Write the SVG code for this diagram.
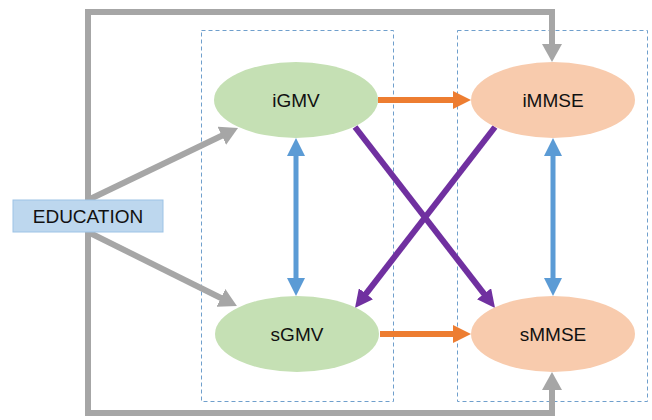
<svg xmlns="http://www.w3.org/2000/svg" width="652" height="420" viewBox="0 0 652 420">
  <style>
    .group-box { fill: none; stroke: #6f9fcc; stroke-width: 1; stroke-dasharray: 4 3; }
    .conn { fill: none; stroke-linejoin: miter; }
    .gray { stroke: #a6a6a6; stroke-width: 6; }
    .orange { stroke: #ed7d31; stroke-width: 6; }
    .blue { stroke: #5b9bd5; stroke-width: 5; }
    .purple { stroke: #7030a0; stroke-width: 6; }
    .label { font-family: "Liberation Sans", Arial, sans-serif; font-size: 19px; fill: #111; text-anchor: middle; }
    .gmv { fill: #c5e0b4; }
    .mmse { fill: #f8cbad; }
  </style>
  <defs>
    <marker id="head-gray" viewBox="0 0 18 20" markerUnits="userSpaceOnUse" markerWidth="18" markerHeight="20" refX="8" refY="10" orient="auto">
      <path d="M0,0 L18,10 L0,20 z" fill="#a6a6a6"/>
    </marker>
    <marker id="head-orange" viewBox="0 0 18 18" markerUnits="userSpaceOnUse" markerWidth="18" markerHeight="18" refX="8" refY="9" orient="auto">
      <path d="M0,0 L18,9 L0,18 z" fill="#ed7d31"/>
    </marker>
    <marker id="head-blue" viewBox="0 0 18 18" markerUnits="userSpaceOnUse" markerWidth="18" markerHeight="18" refX="8" refY="9" orient="auto-start-reverse">
      <path d="M0,0 L18,9 L0,18 z" fill="#5b9bd5"/>
    </marker>
    <marker id="head-purple" viewBox="0 0 18 18" markerUnits="userSpaceOnUse" markerWidth="18" markerHeight="18" refX="8" refY="9" orient="auto">
      <path d="M0,0 L18,9 L0,18 z" fill="#7030a0"/>
    </marker>
  </defs>

  <!-- dashed grouping frames -->
  <rect class="group-box" x="201.5" y="30.5" width="192" height="371"/>
  <rect class="group-box" x="457.5" y="30.5" width="190" height="371"/>

  <g id="connectors">
    <!-- education to intercept / slope of MMSE -->
    <path class="conn gray" d="M88,216 V12 H552 V52" marker-end="url(#head-gray)"/>
    <path class="conn gray" d="M88,216 V413 H552 V382" marker-end="url(#head-gray)"/>
    <!-- education to GMV -->
    <path class="conn gray" d="M88,200 L229,132.3" marker-end="url(#head-gray)"/>
    <path class="conn gray" d="M88,232 L228,301.5" marker-end="url(#head-gray)"/>
    <!-- GMV to MMSE -->
    <path class="conn orange" d="M378,100 H461" marker-end="url(#head-orange)"/>
    <path class="conn orange" d="M380,334 H461" marker-end="url(#head-orange)"/>
    <!-- intercept/slope covariances -->
    <path class="conn blue" d="M296,148 V286" marker-start="url(#head-blue)" marker-end="url(#head-blue)"/>
    <path class="conn blue" d="M553,148 V286" marker-start="url(#head-blue)" marker-end="url(#head-blue)"/>
    <!-- cross paths -->
    <path class="conn purple" d="M355,127 L488.9,300.1" marker-end="url(#head-purple)"/>
    <path class="conn purple" d="M495,127 L361.1,300.1" marker-end="url(#head-purple)"/>
  </g>

  <g id="education">
    <rect x="13" y="200" width="150" height="32" fill="#bdd7ee" stroke="#9dc3e6" stroke-width="1"/>
    <text class="label" x="88" y="223">EDUCATION</text>
  </g>

  <g id="iGMV">
    <ellipse class="gmv" cx="296" cy="100" rx="82" ry="38"/>
    <text class="label" x="296" y="107">iGMV</text>
  </g>

  <g id="iMMSE">
    <ellipse class="mmse" cx="553" cy="100" rx="82" ry="38"/>
    <text class="label" x="553" y="107">iMMSE</text>
  </g>

  <g id="sGMV">
    <ellipse class="gmv" cx="297" cy="334" rx="82" ry="38"/>
    <text class="label" x="297" y="341">sGMV</text>
  </g>

  <g id="sMMSE">
    <ellipse class="mmse" cx="553" cy="334" rx="82" ry="38"/>
    <text class="label" x="553" y="341">sMMSE</text>
  </g>
</svg>
